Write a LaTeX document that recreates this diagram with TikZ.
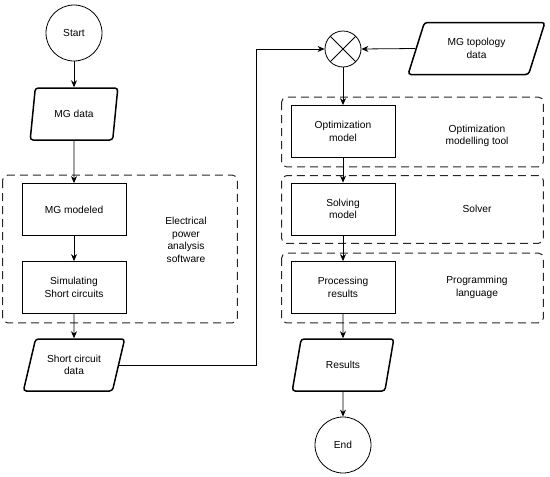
\documentclass[tikz,border=0pt]{standalone}
\usepackage{fontspec}
\setmainfont{Liberation Sans}
\usetikzlibrary{shapes.geometric,arrows.meta,calc}

\begin{document}
\begin{tikzpicture}[
        x=1pt, y=1pt,
        node distance=78pt,
        font=\fontsize{10.2}{12.5}\selectfont,
        terminal/.style={draw, circle, line width=0.8pt, minimum size=56pt, inner sep=0pt},
        process/.style={draw, rectangle, line width=0.8pt, minimum width=104pt, minimum height=52pt, align=center},
        iobox/.style={draw, trapezium, trapezium left angle=68, trapezium right angle=112, trapezium stretches=true,
            rounded corners=3pt, line width=1.5pt, minimum width=102pt, minimum height=52pt, align=center, inner sep=1pt},
        joiner/.style={draw, circle, line width=0.8pt, minimum size=36pt, inner sep=0pt,
            path picture={\draw[line width=0.8pt] (path picture bounding box.north west) -- (path picture bounding box.south east)
                (path picture bounding box.north east) -- (path picture bounding box.south west);}},
        groupbox/.style={draw=black!85, line width=1pt, dash pattern=on 8pt off 5pt, rounded corners=5pt},
        note/.style={align=center},
        line/.style={draw, line width=0.8pt, -{Stealth[length=7pt,width=6pt]}}
    ]
        \useasboundingbox (0,0) rectangle (550,-477);

        % Nodes (left column)
        \node[terminal] (start) at (74,-33) {Start};
        \node[iobox, below of=start, node distance=81pt, minimum width=88pt, trapezium left angle=74, trapezium right angle=106] (mgdata) {MG data};
        \node[process, below of=mgdata, node distance=95.5pt] (mgmodel) {MG modeled};
        \node[process, below of=mgmodel] (simulating) {Simulating\\Short circuits};
        \node[iobox, below of=simulating, node distance=77.5pt] (scdata) {Short circuit\\data};
        \node[note] (powerlabel) at (186,-240) {Electrical\\power\\analysis\\software};

        % Nodes (right column)
        \node[joiner] (join) at (343,-49) {};
        \node[iobox, minimum width=137pt, inner sep=2pt] (topodata) at (476.5,-48.5) {MG topology\\data};
        \node[process, below of=join, node distance=82.5pt] (optmodel) {Optimization\\model};
        \node[process, below of=optmodel, node distance=77.5pt] (solving) {Solving\\model};
        \node[process, below of=solving, node distance=78.5pt] (processing) {Processing\\results};
        \node[iobox, below of=processing, node distance=77.5pt] (results) {Results};
        \node[terminal, below of=results, node distance=80pt] (end) {End};
        \node[note] (toollabel) at ($(optmodel)+(134,-4.5)$) {Optimization\\modelling tool};
        \node[note] (solverlabel) at ($(solving)+(134,0)$) {Solver};
        \node[note] (langlabel) at ($(processing)+(134,0)$) {Programming\\language};
        \coordinate (turn) at (256,-49);

        % Groups
        \draw[groupbox] ($(mgmodel.north west)+(-19,8)$) rectangle ($(simulating.south east)+(111,-9)$);
        \draw[groupbox] ($(optmodel.north west)+(-9,8)$) rectangle ($(optmodel.south east)+(148,-9)$);
        \draw[groupbox] ($(solving.north west)+(-9,7)$) rectangle ($(solving.south east)+(148,-8)$);
        \draw[groupbox] ($(processing.north west)+(-9,8)$) rectangle ($(processing.south east)+(148,-9)$);

        % Arrows
        \path[line] (start) -- (mgdata);
        \path[line] (mgdata) -- (mgmodel);
        \path[line] (mgmodel) -- (simulating);
        \path[line] (simulating) -- (scdata);
        \path[line] (scdata.east) -| (turn) -- (join.west);
        \path[line] (topodata.west) -- (join.east);
        \path[line] (join) -- (optmodel);
        \path[line] (optmodel) -- (solving);
        \path[line] (solving) -- (processing);
        \path[line] (processing) -- (results);
        \path[line] (results) -- (end);
    \end{tikzpicture}
\end{document}
